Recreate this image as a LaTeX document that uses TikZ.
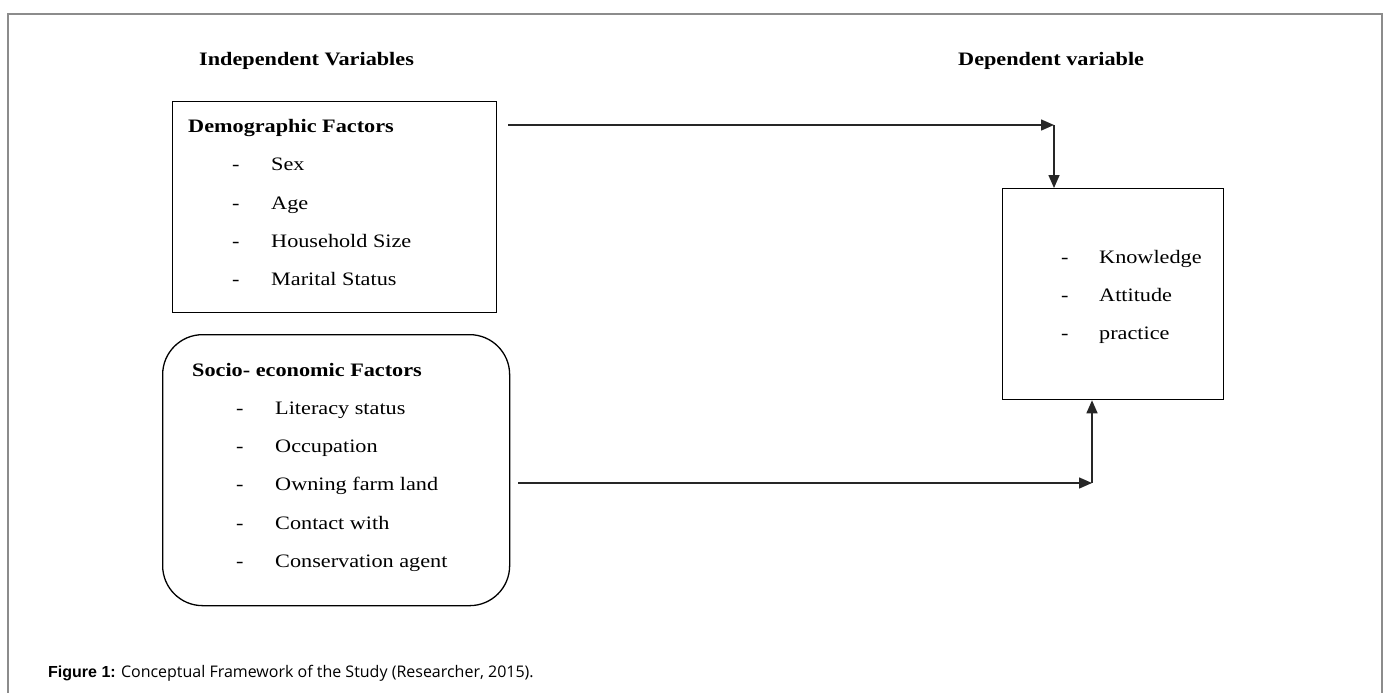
\documentclass[tikz,border=0pt]{standalone}
\usepackage{fontspec}
\setmainfont{Liberation Serif}[FakeStretch=1.17]
\newfontfamily\capfont{Open Sans}
\newfontfamily\capboldfont{Liberation Sans}[FakeStretch=1.0]
\usetikzlibrary{arrows.meta}
\begin{document}
\begin{tikzpicture}[x=1pt,y=-1pt,
  frameline/.style={draw=black!45, line width=1.6pt},
  boxline/.style={draw=black, line width=1.3pt},
  arr/.style={draw=black!85, line width=1.5pt, -{Triangle[length=13pt,width=11pt]}},
  head/.style={anchor=base west, inner sep=0pt, font=\fontsize{19}{22}\selectfont\bfseries},
  item/.style={anchor=base west, inner sep=0pt, font=\fontsize{19}{22}\selectfont},
  dashmark/.style={anchor=base west, inner sep=0pt, font=\fontsize{19}{22}\selectfont}
]
\useasboundingbox (0,0) rectangle (1389,693);
\fill[white] (0,0) rectangle (1389,693);
% outer frame (open at the bottom)
\draw[frameline] (8,693) -- (8,14) -- (1382,14) -- (1382,693);

% column titles
\node[head] (indep) at (199,66) {Independent Variables};
\node[head] (depv) at (958,66) {Dependent variable};

% demographic box
\node[boxline, rectangle, minimum width=324pt, minimum height=211pt, anchor=north west, inner sep=0pt] (demo) at (172,101) {};
\node[head] (demoh) at (188,132) {Demographic Factors};
\node[dashmark] (d1) at (232,170) {-};
\node[item] (s1) at (271,170) {Sex};
\node[dashmark] (d2) at (232,209) {-};
\node[item] (s2) at (271,209) {Age};
\node[dashmark] (d3) at (232,247) {-};
\node[item] (s3) at (271,247) {Household Size};
\node[dashmark] (d4) at (232,285) {-};
\node[item] (s4) at (271,285) {Marital Status};

% socio-economic box
\node[boxline, rectangle, rounded corners=40pt, minimum width=347pt, minimum height=271pt, anchor=north west, inner sep=0pt] (socio) at (162,334) {};
\node[head] (socioh) at (192,376) {Socio- economic Factors};
\node[dashmark] (e1) at (236,414) {-};
\node[item] (t1) at (275,414) {Literacy status};
\node[dashmark] (e2) at (236,452) {-};
\node[item] (t2) at (275,452) {Occupation};
\node[dashmark] (e3) at (236,490) {-};
\node[item] (t3) at (275,490) {Owning farm land};
\node[dashmark] (e4) at (236,529) {-};
\node[item] (t4) at (275,529) {Contact with};
\node[dashmark] (e5) at (236,567) {-};
\node[item] (t5) at (275,567) {Conservation agent};

% dependent box
\node[boxline, rectangle, minimum width=221pt, minimum height=211pt, anchor=north west, inner sep=0pt] (dep) at (1002,188) {};
\node[dashmark] (f1) at (1061,263) {-};
\node[item] (k1) at (1099,263) {Knowledge};
\node[dashmark] (f2) at (1061,301) {-};
\node[item] (k2) at (1099,301) {Attitude};
\node[dashmark] (f3) at (1061,339) {-};
\node[item] (k3) at (1099,339) {practice};

% connectors
\coordinate (a1) at (508,125);
\coordinate (a2) at (1054,125);
\coordinate (b1) at (518,483);
\coordinate (b2) at (1092,483);
\draw[arr] (a1) -- (a2);
\draw[arr] (a2) -- (a2 |- dep.north);
\draw[arr] (b1) -- (b2);
\draw[arr] (b2) -- (b2 |- dep.south);

% caption
\node[anchor=base west, inner sep=0pt] (cap) at (48,677)
  {\fontsize{16}{19}\selectfont{\capboldfont\bfseries Figure 1:}\hspace{-1pt} {\capfont Conceptual Framework of the Study (Researcher, 2015).}};
\end{tikzpicture}
\end{document}
